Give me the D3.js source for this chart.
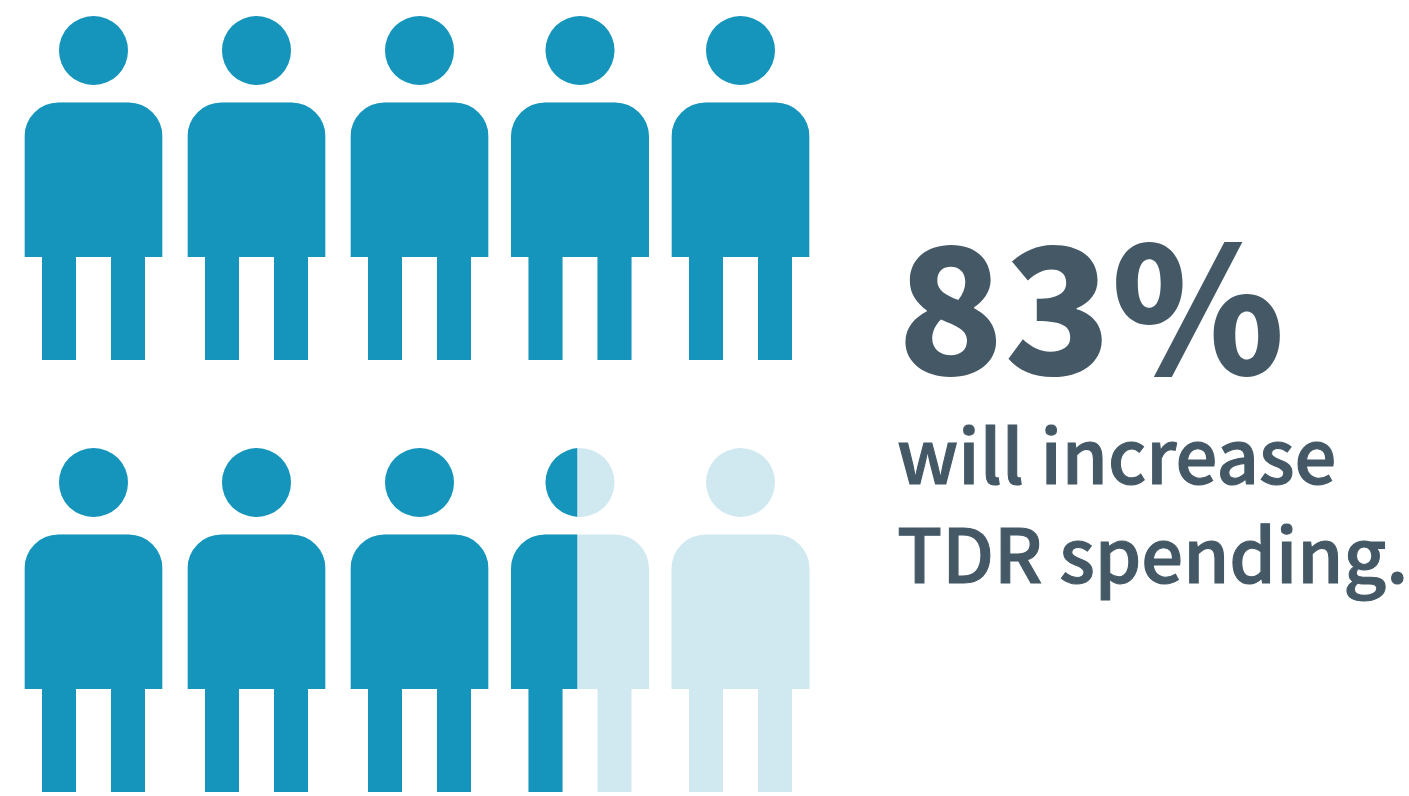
<!DOCTYPE html>
<html lang="en">
<head>
<meta charset="UTF-8">
<title>83% will increase TDR spending</title>
<script src="https://d3js.org/d3.v7.min.js"></script>
<style>
  html, body { margin: 0; padding: 0; background: #fff; overflow: hidden; }
  svg { display: block; }
  path { shape-rendering: geometricPrecision; }
  text { font-family: "Noto Sans CJK SC", "Noto Sans", sans-serif; fill: #445866; }
</style>
</head>
<body>
<svg id="chart" width="1409" height="796"></svg>
<script>
// share of each figure that is filled
const people = [0, 1, 2, 3, 4, 5, 6, 7, 8, 9];
const filled = [1, 1, 1, 1, 1, 1, 1, 1, 0.48, 0];
const headline = "83%";
const caption = ["will increase", "TDR spending."];

const svg = d3.select("#chart");
const dark = "#1595bc", light = "#d0e9f0";

// columns are not quite evenly spaced in the original
const xScale = d3.scaleLinear().domain([0, 2, 3, 4]).range([93.5, 419.5, 580, 740.5]);
const yScale = d3.scalePoint().domain([0, 1]).range([0, 432]);

// one figure, centred on x = 0
function personPath() {
  const p = d3.path();
  const w = 69, r = 34, top = 102.5, bottom = 257, legIn = 17.5, legOut = 51.5, foot = 360;
  p.moveTo(-w, top + r);
  p.arcTo(-w, top, -w + r, top, r);
  p.lineTo(w - r, top);
  p.arcTo(w, top, w, top + r, r);
  p.lineTo(w, bottom);
  p.lineTo(legOut, bottom);
  p.lineTo(legOut, foot);
  p.lineTo(legIn, foot);
  p.lineTo(legIn, bottom);
  p.lineTo(-legIn, bottom);
  p.lineTo(-legIn, foot);
  p.lineTo(-legOut, foot);
  p.lineTo(-legOut, bottom);
  p.lineTo(-w, bottom);
  p.closePath();
  p.moveTo(34.5, 50.5);
  p.arc(0, 50.5, 34.5, 0, 2 * Math.PI);
  p.closePath();
  return p.toString();
}

const fillX = d3.scaleLinear().domain([0, 1]).range([-69, 69]);

svg.append("defs").selectAll("clipPath")
  .data(people)
  .enter().append("clipPath")
  .attr("id", d => "fill-" + d)
  .append("rect")
  .attr("x", -69)
  .attr("y", 0)
  .attr("width", d => fillX(filled[d]) + 69)
  .attr("height", 370);

const figure = svg.selectAll(".person")
  .data(people)
  .enter().append("g")
  .attr("class", "person")
  .attr("transform", d => `translate(${xScale(d % 5)},${yScale(Math.floor(d / 5))})`);

figure.append("path").attr("d", personPath()).attr("fill", light);
figure.append("path").attr("d", personPath()).attr("fill", dark)
  .attr("clip-path", d => `url(#fill-${d})`);

svg.append("text")
  .attr("x", 897)
  .attr("y", 374.5)
  .attr("font-size", 176)
  .attr("font-weight", 900)
  .text(headline);

svg.selectAll(".caption")
  .data(caption)
  .enter().append("text")
  .attr("class", "caption")
  .attr("x", 897)
  .attr("y", (d, i) => 484 + i * 99)
  .attr("font-size", 74)
  .attr("font-weight", 500)
  .attr("stroke", "#445866")
  .attr("stroke-width", 1.1)
  .text(d => d);
</script>
</body>
</html>
